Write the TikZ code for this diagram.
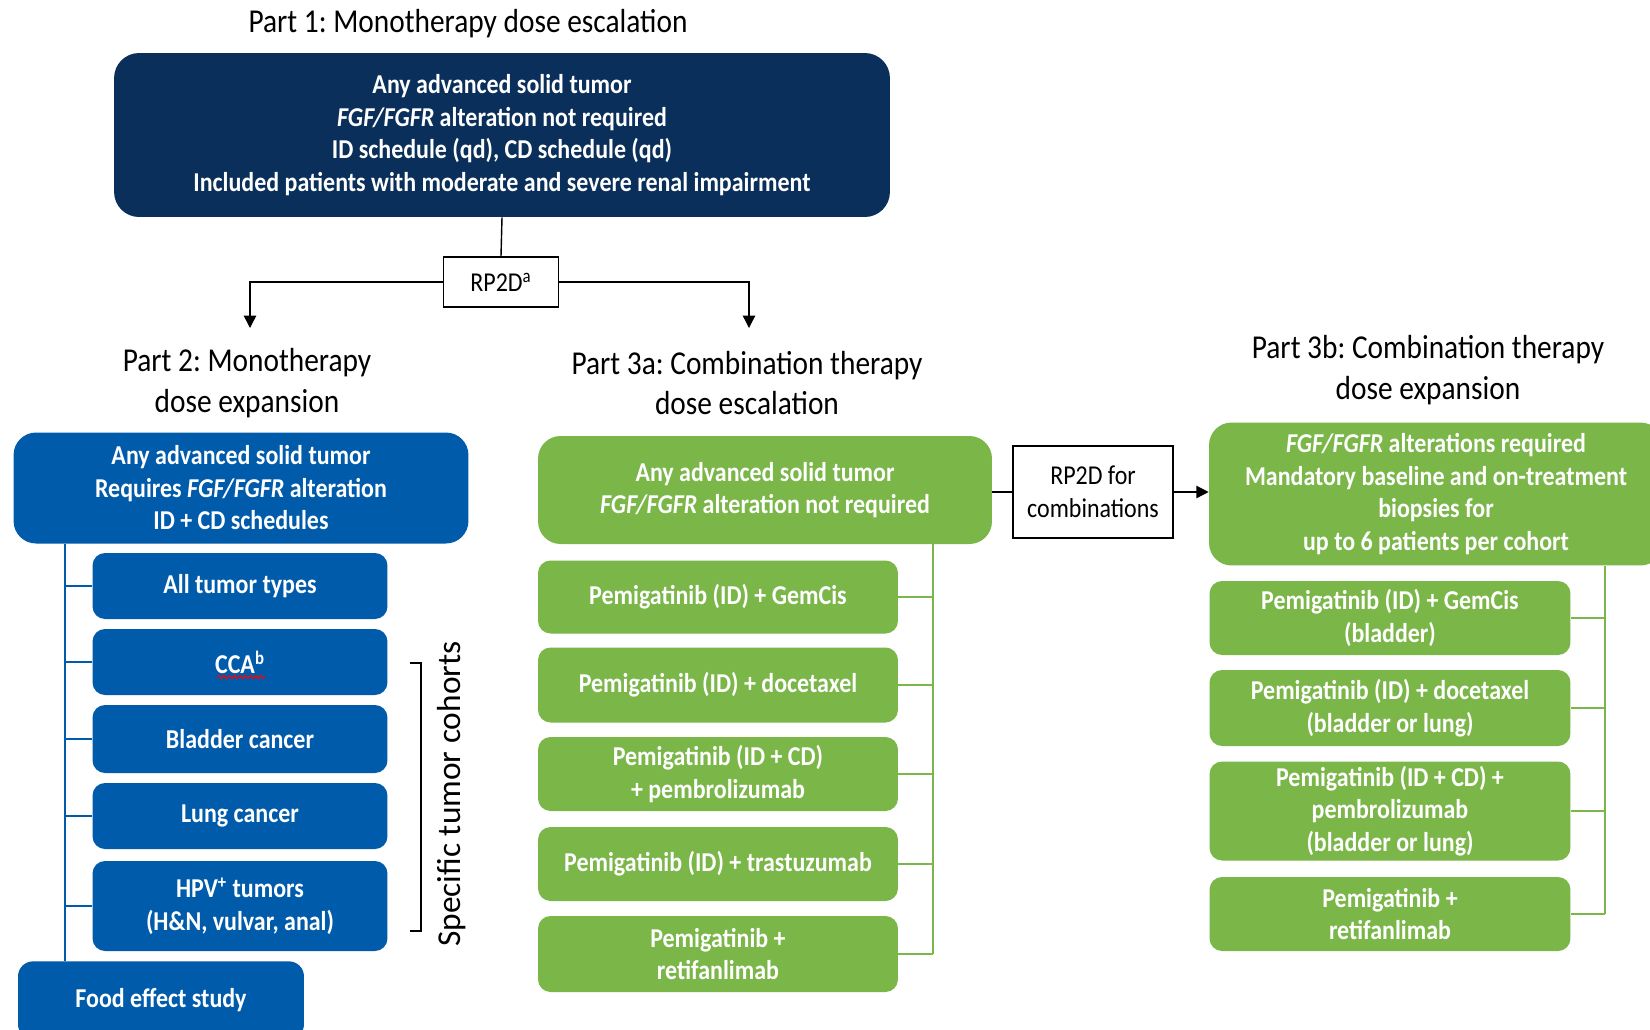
\documentclass[tikz,border=0pt]{standalone}
\usepackage{fontspec}
\setmainfont{Carlito}[FakeStretch=0.88]
\newfontfamily\widefont{Carlito}
\usetikzlibrary{arrows.meta}
\usetikzlibrary{positioning}
\usetikzlibrary{decorations.pathmorphing}

\definecolor{navy}{HTML}{0A2F5A}
\definecolor{studyblue}{HTML}{005BAA}
\definecolor{studygreen}{HTML}{7AB648}

\tikzset{
  title/.style={align=center,font=\fontsize{19}{23}\selectfont},
  box/.style={align=center,text=white,inner sep=0pt,font=\bfseries\fontsize{15.5}{18.5}\selectfont},
  navybox/.style={box,fill=navy,rounded corners=0.5cm},
  bluebox/.style={box,fill=studyblue,rounded corners=0.45cm},
  subblue/.style={box,fill=studyblue,rounded corners=0.25cm,minimum width=5.9cm},
  greenbox/.style={box,fill=studygreen,rounded corners=0.45cm},
  subgreen/.style={box,fill=studygreen,rounded corners=0.25cm},
  rpbox/.style={draw,thick,align=center,inner sep=0pt,font=\fontsize{15.5}{18.5}\selectfont},
  blueline/.style={studyblue,line width=1.2pt},
  greenline/.style={studygreen,line width=1pt},
  arr/.style={thick,-{Triangle[length=7pt,width=7pt]}}
}

\begin{document}
\frenchspacing
\begin{tikzpicture}[x=0.02cm,y=-0.02cm]
  \useasboundingbox (0,0) rectangle (1650,1029);
  \clip (0,0) rectangle (1650,1029);

  % part 1
  \node[title] (t1) at (468,24) {Part 1: Monotherapy dose escalation};
  \node[navybox,minimum width=15.52cm,minimum height=3.28cm] (part1) at (502,135)
    {Any advanced solid tumor\\ \textit{FGF/FGFR} alteration not required\\
     ID schedule (qd), CD schedule (qd)\\
     Included patients with moderate and severe renal impairment};
  \node[rpbox,minimum width=2.3cm,minimum height=1cm] (rpd) at (501,282) {RP2D\textsuperscript{a}};

  % part titles
  \node[title] (t2) at (247,383) {Part 2: Monotherapy\\ dose expansion};
  \node[title] (t3a) at (747,383) {Part 3a: Combination therapy\\ dose escalation};
  \node[title] (t3b) at (1428,370) {Part 3b: Combination therapy\\ dose expansion};
  \coordinate (in2) at (250,328);
  \coordinate (in3a) at (749,328);

  % part 2
  \node[bluebox,minimum width=9.1cm,minimum height=2.22cm] (part2) at (241,488)
    {Any advanced solid tumor\\ Requires \textit{FGF/FGFR} alteration\\ ID + CD schedules};
  \node[subblue,minimum height=1.32cm] (allt) at (240,586) {All tumor types};
  \node[subblue,minimum height=1.32cm] (cca) at (240,662) {CCA\textsuperscript{b}};
  \node[subblue,minimum height=1.36cm] (bladder) at (240,739) {Bladder cancer};
  \node[subblue,minimum height=1.32cm] (lung) at (240,816) {Lung cancer};
  \node[subblue,minimum height=1.8cm] (hpv) at (240,906) {HPV\textsuperscript{+} tumors\\ (H\&N, vulvar, anal)};
  \node[bluebox,rounded corners=0.3cm,minimum width=5.72cm,minimum height=1.56cm,anchor=north] (food) at (161,961) {};
  \node[box] (foodtext) at (161,1000) {Food effect study};
  \draw[red,line width=0.6pt,decorate,decoration={zigzag,amplitude=1pt,segment length=3pt}]
    ([xshift=-0.45cm,yshift=-0.3cm]cca.center) -- ([xshift=0.5cm,yshift=-0.3cm]cca.center);

  \coordinate (trunk2) at (65,0);
  \draw[blueline] (part2.south -| trunk2) -- (food.north -| trunk2);
  \foreach \n in {allt,cca,bladder,lung,hpv}
    \draw[blueline] (\n.west) -- (\n.west -| trunk2);

  % bracket
  \coordinate (brtop) at (410,663);
  \coordinate (brbot) at (410,931);
  \draw[thick] (brtop) -- ++(11,0) |- (brbot);
  \node[rotate=90,font=\widefont\fontsize{19}{23}\selectfont] (cohorts) at (452,794) {Specific tumor cohorts};

  % part 3a
  \node[greenbox,minimum width=9.08cm,minimum height=2.16cm] (part3a) at (765,490)
    {Any advanced solid tumor\\ \textit{FGF/FGFR} alteration not required};
  \node[subgreen,minimum width=7.2cm,minimum height=1.46cm] (gemcis) at (718,597) {Pemigatinib (ID) + GemCis};
  \node[subgreen,minimum width=7.2cm,minimum height=1.5cm] (docetaxel) at (718,685) {Pemigatinib (ID) + docetaxel};
  \node[subgreen,minimum width=7.2cm,minimum height=1.48cm] (pembro) at (718,774) {Pemigatinib (ID + CD)\\ + pembrolizumab};
  \node[subgreen,minimum width=7.2cm,minimum height=1.48cm] (trastu) at (718,864) {Pemigatinib (ID) + trastuzumab};
  \node[subgreen,minimum width=7.2cm,minimum height=1.52cm] (retif) at (718,954) {Pemigatinib +\\ retifanlimab};

  \coordinate (trunk3a) at (933,0);
  \draw[greenline] (part3a.south -| trunk3a) -- (retif.east -| trunk3a);
  \foreach \n in {gemcis,docetaxel,pembro,trastu,retif}
    \draw[greenline] (\n.east) -- (\n.east -| trunk3a);

  % rp2d for combinations
  \node[rpbox,minimum width=3.2cm,minimum height=1.84cm] (rpcomb) at (1093,492) {RP2D for\\ combinations};

  % part 3b
  \node[greenbox,minimum width=9.08cm,minimum height=2.86cm] (part3b) at (1436,494)
    {\textit{FGF/FGFR} alterations required\\ Mandatory baseline and on-treatment\\ biopsies for\\ up to 6 patients per cohort};
  \node[subgreen,minimum width=7.22cm,minimum height=1.48cm] (bgemcis) at (1390,618) {Pemigatinib (ID) + GemCis\\ (bladder)};
  \node[subgreen,minimum width=7.22cm,minimum height=1.52cm] (bdoce) at (1390,708) {Pemigatinib (ID) + docetaxel\\ (bladder or lung)};
  \node[subgreen,minimum width=7.22cm,minimum height=1.98cm] (bpembro) at (1390,811) {Pemigatinib (ID + CD) +\\ pembrolizumab\\ (bladder or lung)};
  \node[subgreen,minimum width=7.22cm,minimum height=1.48cm] (bretif) at (1390,914) {Pemigatinib +\\ retifanlimab};

  \coordinate (trunk3b) at (1605,0);
  \draw[greenline] (part3b.south -| trunk3b) -- (bretif.east -| trunk3b);
  \foreach \n in {bgemcis,bdoce,bpembro,bretif}
    \draw[greenline] (\n.east) -- (\n.east -| trunk3b);

  % connectors
  \draw[thick] (part1.south) -- (rpd.north);
  \draw[arr] (rpd.west) -| (in2);
  \draw[arr] (rpd.east) -| (in3a);
  \draw[thick] (part3a.east |- rpcomb.west) -- (rpcomb.west);
  \draw[arr] (rpcomb.east) -- (part3b.west |- rpcomb.east);
\end{tikzpicture}
\end{document}
